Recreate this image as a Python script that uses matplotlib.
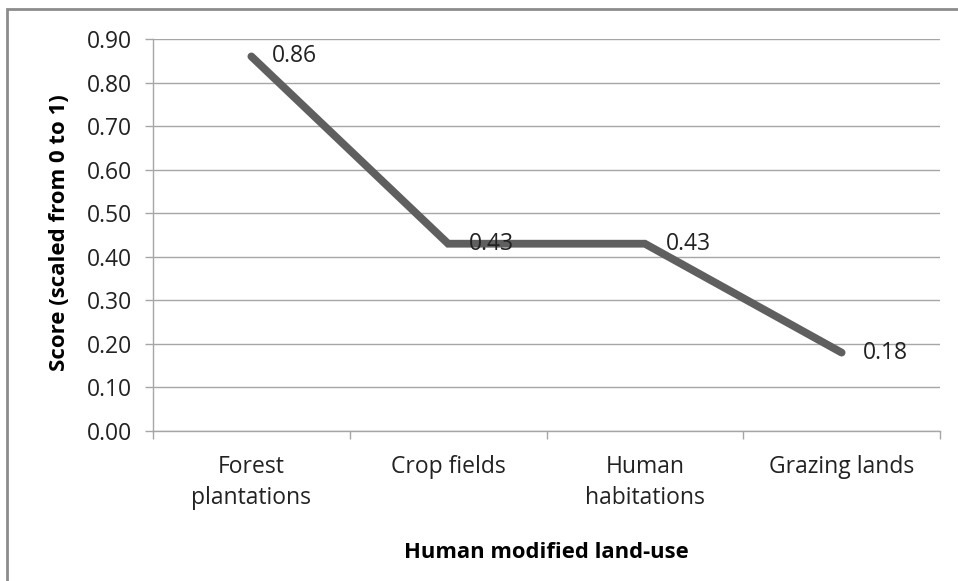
import numpy as np
import matplotlib
matplotlib.use('Agg')
import matplotlib.pyplot as plt
from matplotlib.patches import Rectangle

plt.rcParams['font.family'] = ['Open Sans', 'DejaVu Sans']

categories = ['Forest\nplantations', 'Crop fields', 'Human\nhabitations', 'Grazing lands']
scores = [0.86, 0.43, 0.43, 0.18]
y_ticks = [0.0, 0.1, 0.2, 0.3, 0.4, 0.5, 0.6, 0.7, 0.8, 0.9]

grid_col = '#a6a6a6'
line_col = '#5f5f5f'
text_col = '#222222'

fig = plt.figure(figsize=(9.58, 5.81), dpi=100)
W, H = 958, 581
ax = fig.add_axes([153 / W, 1 - 431 / H, (940 - 153) / W, (431 - 39) / H])

x = np.arange(len(categories))
ax.plot(x, scores, color=line_col, lw=5.6, solid_capstyle='round', solid_joinstyle='miter', zorder=3)
for xi, s in zip(x, scores):
    ax.annotate('%.2f' % s, (xi, s), xytext=(15, 0), textcoords='offset points',
                ha='left', va='center', fontsize=16.5, color=text_col, zorder=4)

ax.set_xlim(-0.5, len(categories) - 0.5)
ax.set_ylim(0, 0.9)
ax.set_yticks(y_ticks)
ax.set_yticklabels(['%.2f' % v for v in y_ticks])
ax.yaxis.grid(True, color=grid_col, lw=1)
ax.set_axisbelow(True)

# category labels sit between boundary ticks
ax.set_xticks(np.arange(len(categories) + 1) - 0.5)
ax.set_xticklabels([])
ax.set_xticks(x, minor=True)
ax.set_xticklabels(categories, minor=True, fontsize=16.5, color=text_col, linespacing=1.4)
ax.tick_params(axis='x', which='minor', length=0, pad=17)
ax.tick_params(axis='x', which='major', length=6, color=grid_col, width=1)
ax.tick_params(axis='y', length=6, color=grid_col, width=1, labelsize=16.5, labelcolor=text_col, pad=9)

for side in ['top', 'right']:
    ax.spines[side].set_visible(False)
for side in ['left', 'bottom']:
    ax.spines[side].set_color(grid_col)
    ax.spines[side].set_linewidth(1)

fig.text(60 / W, 1 - 233 / H, 'Score (scaled from 0 to 1)', rotation=90, ha='center', va='center',
         fontsize=16, fontweight='bold', color='black')
fig.text(546 / W, 1 - 552 / H, 'Human modified land-use', ha='center', va='center',
         fontsize=15.8, fontweight='bold', color='black')

# chart frame
fig.patches.append(Rectangle((7 / W, -0.1), 1.2, 1 - 9 / H + 0.1, transform=fig.transFigure,
                             fill=False, edgecolor='#8c8c8c', lw=2))

fig.savefig('out.png', dpi=100)
